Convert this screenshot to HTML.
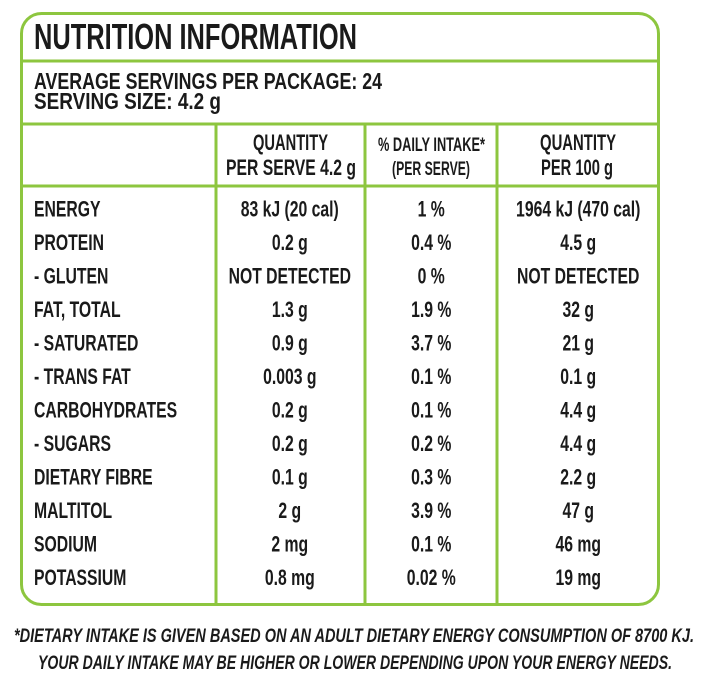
<!DOCTYPE html>
<html><head><meta charset="utf-8"><style>
html,body{margin:0;padding:0;background:#fff;width:707px;height:680px;overflow:hidden}
svg{display:block}
text{font-family:"Liberation Sans",sans-serif;font-weight:bold;fill:#1a1a1a}
</style></head><body>
<svg width="707" height="680" viewBox="0 0 707 680">
<g fill="none" stroke="#8dc63f" stroke-width="3">
<rect x="21.5" y="13.5" width="637" height="591" rx="20"/>
<line x1="21" y1="61" x2="658" y2="61"/>
<line x1="21" y1="124" x2="658" y2="124"/>
<line x1="21" y1="186" x2="658" y2="186"/>
<line x1="216" y1="124" x2="216" y2="605"/>
<line x1="365" y1="124" x2="365" y2="605"/>
<line x1="497" y1="124" x2="497" y2="605"/>
</g>
<text x="34" y="49" font-size="36" textLength="323" lengthAdjust="spacingAndGlyphs">NUTRITION INFORMATION</text>
<text x="34" y="89" font-size="23" textLength="348" lengthAdjust="spacingAndGlyphs">AVERAGE SERVINGS PER PACKAGE: 24</text>
<text x="34" y="109" font-size="23" textLength="187" lengthAdjust="spacingAndGlyphs">SERVING SIZE: 4.2 g</text>
<text x="253" y="150" font-size="22" textLength="75" lengthAdjust="spacingAndGlyphs">QUANTITY</text>
<text x="226" y="175" font-size="22" textLength="130" lengthAdjust="spacingAndGlyphs">PER SERVE 4.2 g</text>
<text x="378" y="151" font-size="19" textLength="107" lengthAdjust="spacingAndGlyphs">% DAILY INTAKE*</text>
<text x="392" y="175" font-size="19" textLength="78" lengthAdjust="spacingAndGlyphs">(PER SERVE)</text>
<text x="540" y="150" font-size="22" textLength="76" lengthAdjust="spacingAndGlyphs">QUANTITY</text>
<text x="541" y="175" font-size="22" textLength="72" lengthAdjust="spacingAndGlyphs">PER 100 g</text>
<g transform="scale(0.7,1)" font-size="22.5">
<g>
<text x="48.6" y="216.5">ENERGY</text>
<text x="48.6" y="250">PROTEIN</text>
<text x="48.6" y="283.5">- GLUTEN</text>
<text x="48.6" y="317">FAT, TOTAL</text>
<text x="48.6" y="350.5">- SATURATED</text>
<text x="48.6" y="384">- TRANS FAT</text>
<text x="48.6" y="417.5">CARBOHYDRATES</text>
<text x="48.6" y="451">- SUGARS</text>
<text x="48.6" y="484.5">DIETARY FIBRE</text>
<text x="48.6" y="518">MALTITOL</text>
<text x="48.6" y="551.5">SODIUM</text>
<text x="48.6" y="585">POTASSIUM</text>
</g>
<g text-anchor="middle">
<text x="414" y="216.5">83 kJ (20 cal)</text>
<text x="414" y="250">0.2 g</text>
<text x="414" y="283.5">NOT DETECTED</text>
<text x="414" y="317">1.3 g</text>
<text x="414" y="350.5">0.9 g</text>
<text x="414" y="384">0.003 g</text>
<text x="414" y="417.5">0.2 g</text>
<text x="414" y="451">0.2 g</text>
<text x="414" y="484.5">0.1 g</text>
<text x="414" y="518">2 g</text>
<text x="414" y="551.5">2 mg</text>
<text x="414" y="585">0.8 mg</text>
<text x="616" y="216.5">1 %</text>
<text x="616" y="250">0.4 %</text>
<text x="616" y="283.5">0 %</text>
<text x="616" y="317">1.9 %</text>
<text x="616" y="350.5">3.7 %</text>
<text x="616" y="384">0.1 %</text>
<text x="616" y="417.5">0.1 %</text>
<text x="616" y="451">0.2 %</text>
<text x="616" y="484.5">0.3 %</text>
<text x="616" y="518">3.9 %</text>
<text x="616" y="551.5">0.1 %</text>
<text x="616" y="585">0.02 %</text>
<text x="826" y="216.5">1964 kJ (470 cal)</text>
<text x="826" y="250">4.5 g</text>
<text x="826" y="283.5">NOT DETECTED</text>
<text x="826" y="317">32 g</text>
<text x="826" y="350.5">21 g</text>
<text x="826" y="384">0.1 g</text>
<text x="826" y="417.5">4.4 g</text>
<text x="826" y="451">4.4 g</text>
<text x="826" y="484.5">2.2 g</text>
<text x="826" y="518">47 g</text>
<text x="826" y="551.5">46 mg</text>
<text x="826" y="585">19 mg</text>
</g>
</g>
<text x="14" y="642" font-size="19" font-style="italic" font-weight="normal" textLength="680" lengthAdjust="spacingAndGlyphs">*DIETARY INTAKE IS GIVEN BASED ON AN ADULT DIETARY ENERGY CONSUMPTION OF 8700 KJ.</text>
<text x="38" y="669" font-size="19" font-style="italic" font-weight="normal" textLength="634" lengthAdjust="spacingAndGlyphs">YOUR DAILY INTAKE MAY BE HIGHER OR LOWER DEPENDING UPON YOUR ENERGY NEEDS.</text>
</svg>
</body></html>
